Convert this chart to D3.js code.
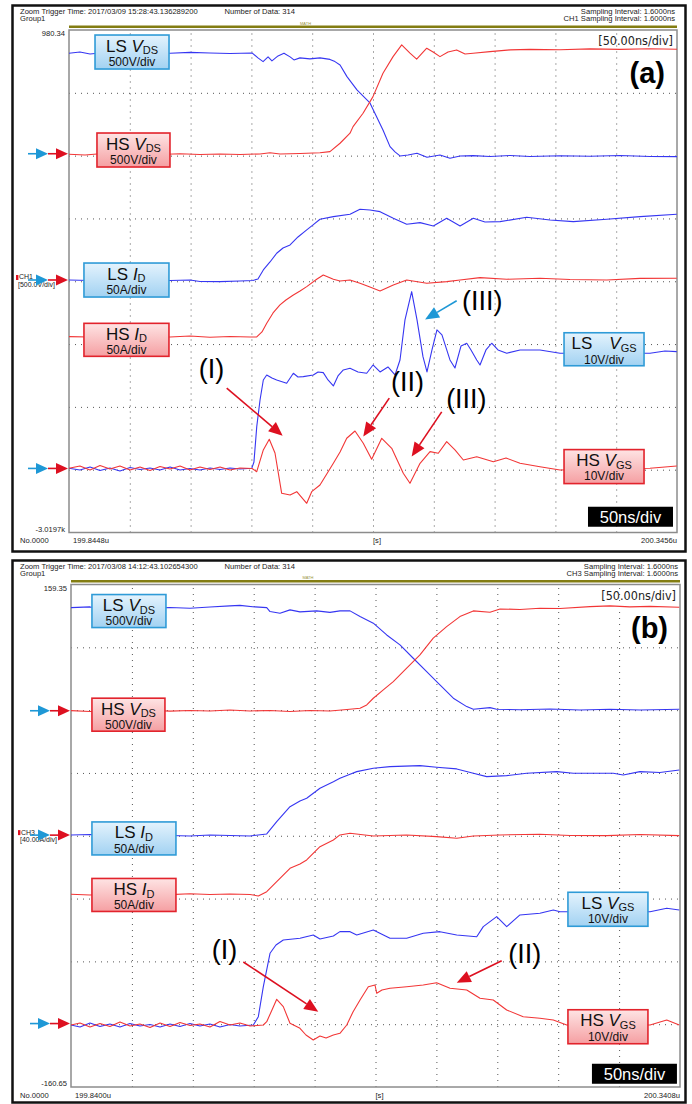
<!DOCTYPE html>
<html>
<head>
<meta charset="utf-8">
<script src="https://cdn.jsdelivr.net/npm/d3@7"></script>
<style>
  body { margin: 0; background: #fff; }
  svg { display: block; }
  text { font-family: "Liberation Sans", Arial, sans-serif; }
  .scope { font-family: "Liberation Sans Narrow", "DejaVu Sans Condensed", "Arial Narrow", sans-serif; }
</style>
</head>
<body>
<svg id="chart" width="692" height="1104"></svg>
<script>
// every trace: [time in ns, screen position in divisions from the bottom]
// panel (a)
const aLsVds = [[0,7.631],[9.0,7.651],[17.3,7.619],[25.5,7.635],[33.7,7.627],[50.2,7.631],[66.6,7.635],[83.1,7.631],[99.5,7.643],[115.9,7.635],[132.4,7.627],[150.5,7.635],[155.4,7.556],[159.6,7.497],[163.7,7.572],[166.9,7.508],[171.9,7.588],[176.8,7.631],[181.8,7.572],[185.0,7.524],[189.9,7.556],[198.1,7.540],[206.4,7.556],[214.6,7.532],[218.7,7.497],[222.9,7.444],[228.6,7.258],[236.8,7.046],[247.5,6.839],[258.2,6.409],[264.0,6.143],[268.1,6.059],[272.2,5.995],[278.8,6.011],[286.2,6.038],[294.4,5.975],[305.1,6.011],[313.3,5.959],[321.6,5.995],[332.3,6.000],[346.2,5.987],[362.7,6.003],[379.1,5.987],[403.8,5.998],[428.4,5.990],[453.1,6.003],[477.8,5.987],[500,5.984]];
const aHsVds = [[0,6.022],[13.2,6.011],[25.5,6.030],[41.9,6.014],[58.4,6.027],[74.8,6.018],[91.3,6.030],[107.7,6.019],[124.2,6.027],[140.6,6.018],[157.1,6.027],[165.3,6.046],[173.5,6.027],[190.0,6.035],[206.4,6.046],[214.6,6.064],[222.9,6.197],[231.1,6.357],[233.6,6.462],[241.8,6.675],[250.0,6.939],[258.2,7.312],[266.5,7.576],[273.6,7.763],[280.4,7.631],[285.9,7.535],[294.2,7.710],[299.4,7.651],[305.1,7.576],[311.7,7.651],[318.8,7.683],[325.7,7.619],[332.3,7.631],[346.2,7.656],[362.7,7.683],[379.1,7.691],[403.8,7.686],[428.5,7.699],[453.1,7.691],[477.8,7.702],[500,7.694]];
const aLsId = [[0,4.021],[17.3,4.013],[33.7,4.029],[50.2,4.016],[66.6,4.025],[83.1,4.013],[99.5,4.021],[107.7,3.997],[124.2,3.994],[140.6,4.005],[151.3,4.013],[155.4,4.037],[159.8,4.180],[165.3,4.307],[170.8,4.446],[176.0,4.530],[181.8,4.578],[188.3,4.705],[195.5,4.817],[200.7,4.897],[206.4,4.987],[217.4,5.029],[231.1,5.067],[239.3,5.146],[247.5,5.135],[255.8,5.108],[266.7,5.003],[277.7,4.908],[288.7,4.933],[299.6,4.881],[310.6,5.003],[321.6,4.881],[332.5,5.003],[342.1,4.944],[354.5,4.949],[376.4,5.019],[395.6,4.976],[414.7,4.949],[442.2,4.987],[469.6,5.029],[499.8,5.067]];
const aHsId = [[0,3.118],[17.3,3.113],[33.7,3.129],[50.2,3.105],[66.6,3.121],[83.1,3.113],[99.5,3.129],[115.9,3.108],[132.4,3.121],[148.9,3.113],[154.4,3.113],[158.7,3.193],[162.6,3.331],[167.8,3.495],[173.5,3.623],[178.4,3.702],[184.5,3.782],[190.0,3.846],[195.5,3.914],[203.7,4.032],[209.1,4.100],[217.4,4.032],[222.9,4.005],[231.1,4.021],[239.3,3.968],[247.5,3.909],[255.8,3.846],[266.7,3.941],[277.7,4.021],[294.2,3.968],[310.6,3.994],[321.6,4.021],[338.0,4.057],[360.0,4.032],[387.3,4.048],[412.0,4.029],[442.2,4.021],[469.6,4.045],[499.8,4.048]];
const aLsVgs = [[0,1.022],[9.0,0.995],[17.3,1.043],[25.5,0.987],[33.7,1.027],[41.9,0.979],[50.2,1.035],[58.4,1.003],[66.6,1.027],[74.8,0.995],[83.1,1.043],[91.3,0.995],[99.5,1.019],[107.7,0.995],[116.0,1.027],[124.2,1.003],[132.4,1.027],[140.6,1.011],[150.3,1.022],[152.1,1.123],[154.4,1.685],[157.1,2.110],[159.8,2.428],[162.6,2.508],[166.9,2.460],[170.8,2.428],[179.0,2.376],[184.5,2.535],[188.3,2.476],[192.7,2.481],[200.9,2.508],[204.8,2.556],[209.1,2.545],[213.0,2.428],[217.4,2.333],[221.2,2.492],[225.6,2.588],[231.1,2.615],[237.7,2.556],[244.8,2.535],[250.0,2.667],[255.8,2.556],[262.3,2.635],[268.1,2.508],[272.2,2.747],[276.3,3.384],[281.8,3.834],[286.2,3.384],[291.1,2.799],[294.4,2.556],[298.5,2.906],[302.6,3.225],[306.7,3.145],[313.3,2.747],[317.4,2.619],[322.4,2.970],[327.1,3.013],[330.6,2.906],[335.3,2.747],[338.0,2.667],[342.9,2.906],[347.6,3.013],[352.8,2.906],[360.0,2.854],[370.9,2.906],[387.3,2.906],[403.8,2.854],[477.8,2.854],[490.1,2.890],[499.8,2.879]];
const aHsVgs = [[0,1.022],[9.0,1.059],[17.3,0.995],[25.5,1.067],[33.7,1.011],[41.9,1.059],[50.2,0.995],[58.4,1.043],[66.6,0.987],[74.8,1.051],[83.1,1.011],[91.3,1.059],[99.5,0.995],[107.7,1.043],[116.0,1.003],[124.2,1.043],[132.4,0.995],[140.6,1.027],[150.5,1.019],[154.4,0.968],[159.8,1.314],[164.7,1.484],[169.4,1.266],[174.9,0.624],[181.8,0.597],[187.3,0.650],[195.5,0.465],[199.6,0.650],[206.4,0.756],[217.4,1.102],[222.9,1.282],[228.4,1.500],[235.2,1.616],[242.0,1.420],[248.9,1.166],[257.2,1.500],[265.4,1.341],[274.9,0.943],[280.4,0.783],[288.7,1.102],[296.9,1.287],[303.7,1.261],[310.6,1.446],[317.4,1.314],[324.3,1.154],[335.3,1.207],[349.0,1.127],[359.4,1.186],[370.9,1.102],[387.3,1.048],[403.8,0.995],[477.8,1.022],[490.1,1.043],[499.8,1.059]];

// panel (b)
const bLsVds = [[0,7.632],[15.6,7.643],[32.0,7.619],[48.4,7.638],[64.9,7.627],[81.3,7.635],[97.7,7.623],[114.1,7.643],[130.5,7.659],[138.7,7.667],[151.1,7.643],[160.7,7.632],[163.4,7.569],[171.6,7.543],[179.8,7.596],[188.0,7.564],[201.7,7.580],[212.6,7.556],[220.8,7.580],[229.1,7.580],[237.3,7.489],[248.2,7.384],[259.2,7.197],[270.1,7.038],[281.0,6.826],[292.0,6.613],[302.9,6.401],[313.9,6.190],[324.9,6.056],[330.3,6.014],[344.0,6.040],[349.5,6.014],[368.6,6.006],[393.3,6.019],[417.9,6.003],[442.5,6.014],[467.2,6.003],[499.4,6.014]];
const bHsVds = [[0,5.992],[15.6,5.979],[32.0,6.003],[48.4,5.987],[64.9,5.998],[81.3,5.984],[97.7,5.995],[114.1,5.987],[130.5,6.003],[147.0,5.987],[163.4,5.995],[179.8,5.979],[196.2,5.995],[212.6,5.987],[226.6,6.011],[237.3,6.030],[242.8,6.083],[248.2,6.189],[256.4,6.322],[264.6,6.454],[275.6,6.667],[286.5,6.879],[297.4,7.145],[308.4,7.330],[319.3,7.489],[330.3,7.580],[344.0,7.559],[352.2,7.611],[368.6,7.603],[385.0,7.623],[401.5,7.619],[426.1,7.648],[442.5,7.659],[458.9,7.643],[475.4,7.651],[499.4,7.638]];
const bLsId = [[0,4.013],[15.6,4.021],[32.0,4.005],[48.4,4.018],[64.9,4.008],[81.3,4.005],[97.7,3.997],[114.1,4.013],[130.5,4.005],[147.0,3.997],[160.7,4.029],[168.9,4.225],[179.8,4.463],[188.0,4.554],[193.5,4.597],[204.4,4.756],[215.4,4.861],[220.8,4.916],[229.1,4.979],[234.6,5.021],[248.2,5.075],[261.9,5.100],[286.5,5.116],[300.2,5.091],[316.7,5.064],[330.3,4.995],[341.3,4.941],[357.7,4.957],[374.1,4.995],[398.8,5.021],[412.4,4.995],[445.2,4.995],[453.4,4.968],[467.1,5.021],[483.5,5.008],[499.4,5.048]];
const bHsId = [[0,3.068],[15.6,3.057],[32.0,3.076],[48.4,3.065],[64.9,3.073],[81.3,3.062],[97.7,3.076],[114.1,3.065],[130.5,3.073],[147.0,3.065],[153.8,3.041],[160.7,3.110],[168.9,3.269],[179.8,3.482],[188.0,3.551],[193.5,3.615],[204.4,3.826],[215.4,3.933],[220.8,4.013],[229.1,4.040],[248.2,3.997],[275.6,4.013],[300.2,3.986],[316.7,3.960],[330.3,3.997],[352.2,4.013],[385.0,4.024],[409.7,4.005],[439.8,4.002],[467.1,4.021],[499.4,4.002]];
const bLsVgs = [[0,0.987],[7.4,0.955],[15.6,1.019],[23.8,0.963],[32.0,1.003],[40.2,0.955],[48.4,1.011],[56.6,0.971],[64.9,0.995],[73.1,0.955],[81.3,1.003],[89.5,0.963],[97.7,1.011],[105.9,0.971],[114.1,1.003],[122.3,0.955],[130.5,0.995],[138.7,0.971],[149.7,0.987],[153.8,1.119],[157.9,1.597],[163.4,2.129],[168.3,2.261],[174.3,2.341],[188.0,2.368],[198.9,2.420],[204.4,2.357],[215.4,2.404],[220.8,2.473],[229.1,2.473],[234.6,2.420],[248.2,2.500],[261.9,2.368],[275.6,2.368],[289.2,2.447],[302.9,2.473],[316.7,2.420],[333.1,2.393],[338.5,2.553],[349.5,2.712],[357.7,2.553],[368.6,2.739],[385.0,2.766],[396.0,2.818],[401.5,2.791],[475.4,2.791],[489.1,2.846],[499.4,2.818]];
const bHsVgs = [[0,0.987],[7.4,1.019],[15.6,0.955],[23.8,1.011],[32.0,0.963],[40.2,1.035],[48.4,0.971],[56.6,1.003],[64.9,0.947],[73.1,1.019],[81.3,0.963],[89.5,1.027],[97.7,0.979],[105.9,1.003],[114.1,0.955],[122.3,1.043],[130.5,0.987],[138.7,1.019],[147.0,0.971],[157.9,0.987],[160.7,1.040],[165.0,1.226],[168.9,1.396],[174.3,1.279],[179.8,1.014],[188.0,0.935],[192.9,0.828],[198.9,0.748],[204.4,0.812],[209.4,0.780],[215.4,0.828],[220.8,0.855],[226.4,0.987],[231.5,1.194],[237.3,1.385],[244.1,1.597],[249.6,1.624],[251.0,1.492],[255.3,1.545],[261.9,1.572],[275.6,1.597],[289.2,1.624],[300.2,1.661],[311.2,1.572],[324.9,1.545],[335.8,1.412],[346.7,1.385],[357.7,1.226],[371.3,1.119],[385.0,1.094],[396.0,1.067],[407.0,0.987],[475.4,0.987],[489.1,1.067],[499.4,0.987]];

// screen grid: 10 x 50 ns, 8 vertical divisions
const timeTicks = [50, 100, 150, 200, 250, 300, 350, 400, 450];
const divTicks = [1, 2, 3, 4, 5, 6, 7];

const BLUE = "#3636f2";
const RED = "#f23636";
const ARROW_BLUE = "#1e98d6";
const ARROW_RED = "#dd1020";

const panels = [
  {
    frame: [12.5, 5.5, 673, 546],
    plot: [69, 30, 677, 532.5],
    traces: [[aLsVds, BLUE], [aHsVds, RED], [aLsId, BLUE], [aHsId, RED], [aLsVgs, BLUE], [aHsVgs, RED]],
    header: ["Zoom Trigger Time: 2017/03/09 15:28:43.136289200", "Group1", "Number of Data: 314",
             "Sampling Interval:  1.6000ns", "CH1 Sampling Interval:  1.6000ns"],
    top: "980.34", bottom: "-3.0197k", start: "199.8448u", end: "200.3456u",
    ch: ["CH1", "[500.0V/div]"],
    levels: [6.03, 4.02, 1.02],
    tag: "(a)",
    boxes: [
      { kind: "LS", sym: "V", sub: "DS", scale: "500V/div", t: 21.4, d: 7.92, w: 74, h: 34 },
      { kind: "HS", sym: "V", sub: "DS", scale: "500V/div", t: 23.0, d: 6.36, w: 73, h: 34 },
      { kind: "LS", sym: "I", sub: "D", scale: "50A/div", t: 12.3, d: 4.29, w: 85, h: 34 },
      { kind: "HS", sym: "I", sub: "D", scale: "50A/div", t: 12.3, d: 3.33, w: 85, h: 33 },
      { kind: "LS", sym: "V", sub: "GS", scale: "10V/div", t: 407.1, d: 3.18, w: 80, h: 33, gap: true },
      { kind: "HS", sym: "V", sub: "GS", scale: "10V/div", t: 407.1, d: 1.32, w: 80, h: 34 }
    ],
    perDiv: { t: 426.8, d: 0.41 },
    notes: [
      { text: "(I)", t: 117.2, d: 2.46, from: [129.7, 2.30], to: [175.7, 1.54], color: ARROW_RED },
      { text: "(II)", t: 278.3, d: 2.25, from: [263.4, 2.14], to: [242.0, 1.53], color: ARROW_RED },
      { text: "(III)", t: 326.8, d: 1.99, from: [306.5, 1.92], to: [281.8, 1.21], color: ARROW_RED },
      { text: "(III)", t: 339.9, d: 3.55, from: [318.8, 3.69], to: [292.8, 3.39], color: ARROW_BLUE }
    ]
  },
  {
    frame: [12.5, 560.5, 673, 542],
    plot: [71, 584.5, 680, 1087],
    traces: [[bLsVds, BLUE], [bHsVds, RED], [bLsId, BLUE], [bHsId, RED], [bLsVgs, BLUE], [bHsVgs, RED]],
    header: ["Zoom Trigger Time: 2017/03/08 14:12:43.102654300", "Group1", "Number of Data: 314",
             "Sampling Interval:  1.6000ns", "CH3 Sampling Interval:  1.6000ns"],
    top: "159.35", bottom: "-160.65", start: "199.8400u", end: "200.3408u",
    ch: ["CH3", "[40.00A/div]"],
    levels: [5.99, 4.01, 1.01],
    tag: "(b)",
    boxes: [
      { kind: "LS", sym: "V", sub: "DS", scale: "500V/div", t: 17.2, d: 7.84, w: 74, h: 33 },
      { kind: "HS", sym: "V", sub: "DS", scale: "500V/div", t: 17.2, d: 6.19, w: 73, h: 33 },
      { kind: "LS", sym: "I", sub: "D", scale: "50A/div", t: 17.2, d: 4.22, w: 84, h: 33 },
      { kind: "HS", sym: "I", sub: "D", scale: "50A/div", t: 17.2, d: 3.32, w: 84, h: 33 },
      { kind: "LS", sym: "V", sub: "GS", scale: "10V/div", t: 408.0, d: 3.10, w: 80, h: 34 },
      { kind: "HS", sym: "V", sub: "GS", scale: "10V/div", t: 408.0, d: 1.23, w: 80, h: 34 }
    ],
    perDiv: { t: 427.7, d: 0.37 },
    notes: [
      { text: "(I)", t: 126.0, d: 2.03, from: [141.5, 1.99], to: [203.0, 1.20], color: ARROW_RED },
      { text: "(II)", t: 372.6, d: 1.98, from: [353.6, 2.01], to: [316.7, 1.66], color: ARROW_RED }
    ]
  }
];

const svg = d3.select("#chart");
const defs = svg.append("defs");

function gradient(id, c0, c1) {
  const g = defs.append("linearGradient").attr("id", id)
    .attr("x1", 0).attr("y1", 0).attr("x2", 0).attr("y2", 1);
  g.append("stop").attr("offset", 0).attr("stop-color", c0);
  g.append("stop").attr("offset", 1).attr("stop-color", c1);
}
gradient("gBlue", "#e4f3fd", "#a2d2f2");
gradient("gRed", "#fee4e4", "#f59fa2");

function arrow(g, xa, ya, xb, yb, color, len, half, width) {
  const ang = Math.atan2(yb - ya, xb - xa);
  const bx = xb - Math.cos(ang) * len, by = yb - Math.sin(ang) * len;
  g.append("line").attr("x1", xa).attr("y1", ya).attr("x2", bx).attr("y2", by)
    .attr("stroke", color).attr("stroke-width", width);
  const nx = -Math.sin(ang) * half, ny = Math.cos(ang) * half;
  g.append("polygon")
    .attr("points", `${xb},${yb} ${bx + nx},${by + ny} ${bx - nx},${by - ny}`)
    .attr("fill", color);
}

panels.forEach((p) => {
  const [fx, fy, fw, fh] = p.frame;
  const [x0, y0, x1, y1] = p.plot;
  const g = svg.append("g");

  const x = d3.scaleLinear().domain([0, 500]).range([x0, x1]);
  const y = d3.scaleLinear().domain([0, 8]).range([y1, y0]);

  g.append("rect").attr("x", fx).attr("y", fy).attr("width", fw).attr("height", fh)
    .attr("fill", "#fff").attr("stroke", "#111").attr("stroke-width", 2.5);

  // header
  const small = g.append("g").attr("class", "scope").attr("font-size", 7.6).attr("fill", "#222");
  small.append("text").attr("x", fx + 7.5).attr("y", fy + 8.5).text(p.header[0]);
  small.append("text").attr("x", fx + 7.5).attr("y", fy + 15.5).text(p.header[1]);
  small.append("text").attr("x", fx + 212).attr("y", fy + 8.5).text(p.header[2]);
  small.append("text").attr("x", x1 - 2).attr("y", fy + 8.5).attr("text-anchor", "end").text(p.header[3]);
  small.append("text").attr("x", x1 - 2).attr("y", fy + 15.5).attr("text-anchor", "end").text(p.header[4]);

  // olive math bar
  g.append("line").attr("x1", x0).attr("x2", x1).attr("y1", y0 - 3.2).attr("y2", y0 - 3.2)
    .attr("stroke", "#837d12").attr("stroke-width", 2.6);
  g.append("text").attr("x", x(190)).attr("y", y0 - 5.5).attr("font-size", 4).attr("fill", "#9a9440").text("MATH");

  // grid through axes
  const gridX = g.append("g").attr("transform", `translate(0,${y1})`)
    .call(d3.axisBottom(x).tickValues(timeTicks).tickSize(-(y1 - y0)).tickFormat(""));
  const gridY = g.append("g").attr("transform", `translate(${x0},0)`)
    .call(d3.axisLeft(y).tickValues(divTicks).tickSize(-(x1 - x0)).tickFormat(""));
  [gridX, gridY].forEach((a) => {
    a.select(".domain").remove();
    a.selectAll(".tick line").attr("stroke", "#555").attr("stroke-width", 1)
      .attr("stroke-dasharray", "1,5");
  });

  // plot border
  g.append("rect").attr("x", x0).attr("y", y0).attr("width", x1 - x0).attr("height", y1 - y0)
    .attr("fill", "none").attr("stroke", "#8c8c8c").attr("stroke-width", 1.5);

  // scope labels
  small.append("text").attr("x", x0 - 4).attr("y", y0 + 6).attr("text-anchor", "end").text(p.top);
  small.append("text").attr("x", x0 - 4).attr("y", y1 - 1).attr("text-anchor", "end").text(p.bottom);
  small.append("text").attr("x", fx + 7.5).attr("y", y1 + 10.5).text("No.0000");
  small.append("text").attr("x", x0 + 4).attr("y", y1 + 10.5).text(p.start);
  small.append("text").attr("x", x(250)).attr("y", y1 + 10.5).text("[s]");
  small.append("text").attr("x", x1).attr("y", y1 + 10.5).attr("text-anchor", "end").text(p.end);
  g.append("text").attr("class", "scope").attr("x", x1 - 4).attr("y", y0 + 15)
    .attr("text-anchor", "end").attr("font-size", 12.5).attr("fill", "#222").text("[50.00ns/div]");

  // traces
  const line = d3.line().x((d) => x(d[0])).y((d) => y(d[1]));
  p.traces.forEach(([data, color]) => {
    g.append("path").datum(data).attr("d", line).attr("fill", "none")
      .attr("stroke", color).attr("stroke-width", 1.1).attr("stroke-linejoin", "round");
  });

  // channel note at the current level
  const chY = y(p.levels[1]);
  g.append("rect").attr("x", x0 - 53).attr("y", chY - 5).attr("width", 2.4).attr("height", 5).attr("fill", "#e01020");
  small.append("text").attr("x", x0 - 50).attr("y", chY - 0.5).attr("font-size", 7).text(p.ch[0]);
  small.append("text").attr("x", x0 - 51).attr("y", chY + 7).attr("font-size", 7).text(p.ch[1]);

  // ground markers
  p.levels.forEach((lv) => {
    const ly = y(lv);
    arrow(g, x0 - 41, ly, x0 - 21, ly, ARROW_BLUE, 12, 5.5, 1.6);
    arrow(g, x0 - 21, ly, x0 - 1, ly, ARROW_RED, 12, 5.5, 1.6);
  });

  // label boxes
  p.boxes.forEach((b) => {
    const bx = x(b.t), by = y(b.d);
    const ls = b.kind === "LS";
    g.append("rect").attr("x", bx).attr("y", by).attr("width", b.w).attr("height", b.h)
      .attr("fill", ls ? "url(#gBlue)" : "url(#gRed)")
      .attr("stroke", ls ? "#2f9bd7" : "#e2232c").attr("stroke-width", 1.6);
    const t = g.append("text").attr("x", bx + b.w / 2).attr("y", by + 16.5)
      .attr("text-anchor", "middle").attr("font-size", 17).attr("fill", "#111");
    t.append("tspan").text(b.kind + (b.gap ? "\u2002\u2002" : " "));
    t.append("tspan").attr("font-style", "italic").text(b.sym);
    t.append("tspan").attr("font-size", 11).attr("dy", 2.6).text(b.sub);
    g.append("text").attr("x", bx + b.w / 2).attr("y", by + 30.8).attr("text-anchor", "middle")
      .attr("font-size", 12).attr("fill", "#111").text(b.scale);
  });

  // 50ns/div badge
  const px = x(p.perDiv.t), py = y(p.perDiv.d);
  g.append("rect").attr("x", px).attr("y", py).attr("width", 85).attr("height", 20).attr("fill", "#000");
  g.append("text").attr("x", px + 42.5).attr("y", py + 16).attr("text-anchor", "middle")
    .attr("font-size", 16.5).attr("fill", "#fff").text("50ns/div");

  // panel tag
  g.append("text").attr("x", x1 - 12).attr("y", y0 + 53).attr("text-anchor", "end")
    .attr("font-size", 29).attr("font-weight", "bold").attr("fill", "#000").text(p.tag);

  // annotations
  p.notes.forEach((n) => {
    g.append("text").attr("x", x(n.t)).attr("y", y(n.d)).attr("text-anchor", "middle")
      .attr("font-size", 27).attr("fill", "#000").text(n.text);
    arrow(g, x(n.from[0]), y(n.from[1]), x(n.to[0]), y(n.to[1]), n.color, 14, 6, 1.6);
  });
});
</script>
</body>
</html>
